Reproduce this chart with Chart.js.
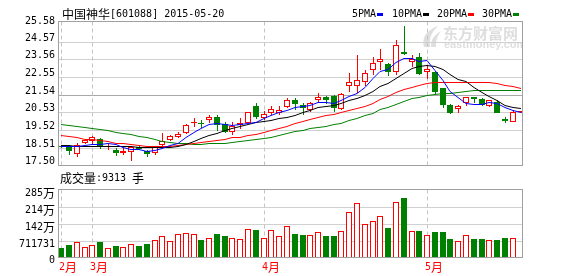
<!DOCTYPE html>
<html>
<head>
<meta charset="utf-8">
<script src="https://cdn.jsdelivr.net/npm/chart.js@4"></script>
<style>
  html, body { margin: 0; padding: 0; background: #fff; }
  canvas { display: block; }
</style>
</head>
<body>
<canvas id="kline" width="578" height="276"></canvas>
<script>
// 中国神华 601088 日K  2015-02-17 ~ 2015-05-20 (60 个交易日)
var opens = [18.62, 18.62, 18.17, 18.81, 18.87, 19.00, 18.55, 18.40, 18.21, 18.26,
  18.55, 18.34, 18.21, 18.68, 18.93, 19.15, 19.33, 19.94, 19.91, 20.11,
  20.24, 19.86, 19.44, 19.82, 19.92, 20.87, 20.20, 20.49, 20.52, 20.81,
  21.25, 20.95, 20.68, 21.25, 21.40, 21.44, 20.72, 22.05, 22.05, 22.24,
  22.96, 23.43, 23.30, 22.86, 23.95, 23.38, 23.69, 22.81, 22.83, 21.92,
  20.96, 20.72, 21.09, 21.40, 21.29, 20.92, 21.15, 20.15, 20.01, 20.53];
var highs = [18.68, 18.65, 18.81, 19.01, 19.20, 19.06, 18.72, 18.49, 18.49, 18.60,
  18.60, 18.40, 18.62, 19.38, 19.22, 19.44, 19.85, 20.22, 20.11, 20.39,
  20.39, 20.01, 20.01, 20.20, 20.58, 21.06, 20.62, 20.87, 20.87, 21.38,
  21.35, 21.06, 21.15, 21.63, 21.48, 21.50, 21.62, 22.77, 23.82, 22.96,
  23.69, 24.14, 23.35, 24.67, 25.47, 23.82, 23.91, 23.25, 22.88, 21.95,
  21.00, 20.96, 21.43, 21.42, 21.34, 21.25, 21.25, 20.24, 20.68, 20.58];
var lows = [18.50, 18.11, 18.01, 18.74, 18.74, 18.42, 18.40, 18.07, 18.11, 17.73,
  18.40, 18.01, 18.11, 18.58, 18.90, 19.06, 19.30, 19.71, 19.63, 19.92,
  19.48, 19.35, 19.25, 19.59, 19.90, 20.16, 20.11, 20.39, 20.39, 20.78,
  20.68, 20.39, 20.58, 21.06, 21.02, 20.58, 20.68, 21.67, 21.63, 22.05,
  22.68, 22.96, 22.58, 22.68, 23.79, 23.11, 22.68, 22.43, 21.59, 20.78,
  20.45, 20.49, 20.87, 21.06, 20.91, 20.83, 20.49, 19.95, 20.00, 20.50];
var closes = [18.55, 18.30, 18.68, 18.93, 19.12, 18.62, 18.62, 18.21, 18.34, 18.53,
  18.45, 18.15, 18.58, 18.87, 19.18, 19.28, 19.82, 20.00, 19.85, 20.24,
  19.82, 19.44, 19.78, 19.95, 20.55, 20.24, 20.43, 20.74, 20.68, 21.25,
  21.02, 20.79, 21.06, 21.40, 21.21, 20.78, 21.59, 22.29, 22.39, 22.77,
  23.34, 23.57, 22.86, 24.39, 23.87, 23.57, 22.73, 23.00, 21.67, 20.96,
  20.49, 20.87, 21.40, 21.29, 20.96, 21.21, 20.52, 20.05, 20.58, 20.55];
// 成交量(手)
var volumes = [391000, 516000, 642000, 460000, 544000, 642000, 391000, 474000, 433000, 558000,
  474000, 558000, 726000, 893000, 698000, 977000, 1019000, 991000, 726000, 809000,
  977000, 893000, 837000, 768000, 1186000, 1144000, 809000, 1144000, 893000, 1312000,
  977000, 935000, 935000, 1061000, 893000, 893000, 1102000, 1898000, 2275000, 1396000,
  1521000, 1730000, 1228000, 2317000, 2484000, 1102000, 1102000, 935000, 1061000, 1061000,
  768000, 684000, 935000, 768000, 768000, 726000, 726000, 809000, 809000, 9313];
// 均线
var ma5 = [18.62, 18.60, 18.62, 18.68, 18.72, 18.73, 18.79, 18.70, 18.58, 18.46,
  18.43, 18.34, 18.41, 18.52, 18.65, 18.81, 19.15, 19.43, 19.63, 19.84,
  19.95, 19.87, 19.83, 19.85, 19.91, 19.99, 20.19, 20.38, 20.53, 20.67,
  20.82, 20.90, 20.96, 21.10, 21.10, 21.05, 21.21, 21.45, 21.65, 21.96,
  22.48, 22.87, 22.99, 23.39, 23.61, 23.65, 23.48, 23.51, 22.97, 22.39,
  21.77, 21.40, 21.08, 21.00, 21.00, 21.15, 21.08, 20.81, 20.66, 20.58];
var ma10 = [18.68, 18.66, 18.64, 18.63, 18.63, 18.62, 18.62, 18.61, 18.60, 18.59,
  18.58, 18.57, 18.56, 18.55, 18.56, 18.62, 18.74, 18.92, 19.07, 19.24,
  19.38, 19.51, 19.63, 19.74, 19.87, 19.97, 20.03, 20.10, 20.19, 20.29,
  20.41, 20.54, 20.67, 20.82, 20.88, 20.94, 21.05, 21.21, 21.38, 21.53,
  21.76, 22.04, 22.22, 22.52, 22.79, 23.06, 23.18, 23.25, 23.18, 23.00,
  22.71, 22.44, 22.30, 21.99, 21.69, 21.46, 21.24, 20.94, 20.83, 20.79];
var ma20 = [19.22, 19.16, 19.10, 19.04, 18.99, 18.93, 18.87, 18.81, 18.76, 18.71,
  18.67, 18.64, 18.62, 18.62, 18.64, 18.69, 18.75, 18.80, 18.86, 18.92,
  18.98, 19.04, 19.10, 19.15, 19.22, 19.30, 19.39, 19.52, 19.63, 19.77,
  19.90, 20.03, 20.15, 20.28, 20.38, 20.46, 20.54, 20.66, 20.79, 20.91,
  21.09, 21.29, 21.45, 21.67, 21.84, 22.00, 22.12, 22.23, 22.28, 22.27,
  22.24, 22.24, 22.26, 22.25, 22.24, 22.26, 22.21, 22.10, 22.01, 21.90];
var ma30 = [19.88, 19.83, 19.77, 19.71, 19.65, 19.58, 19.51, 19.44, 19.37, 19.28,
  19.19, 19.10, 19.00, 18.91, 18.82, 18.78, 18.76, 18.75, 18.75, 18.76,
  18.78, 18.81, 18.85, 18.89, 18.94, 19.00, 19.07, 19.15, 19.25, 19.37,
  19.46, 19.54, 19.62, 19.70, 19.77, 19.84, 19.94, 20.08, 20.21, 20.36,
  20.52, 20.70, 20.84, 21.03, 21.18, 21.33, 21.42, 21.52, 21.58, 21.61,
  21.63, 21.68, 21.73, 21.78, 21.79, 21.82, 21.83, 21.80, 21.80, 21.78];

// 月份分隔
var monthNames = ['2月', '3月', '4月', '5月'];
var monthFirstDay = [0, 4, 26, 47];
// 坐标刻度
var priceTicks = [17.50, 18.51, 19.52, 20.53, 21.54, 22.55, 23.56, 24.57, 25.58];
var volTicks = [0, 711731, 1423462, 2135193, 2846924];
var volTickLabels = ['0', '711731', '142万', '214万', '285万'];

var stockTitle = '中国神华[601088] 2015-05-20';
var lastVolText = '成交量:9313 手';
var maNames = ['5PMA', '10PMA', '20PMA', '30PMA'];
var maColors = ['#0000ff', '#000000', '#ff0000', '#008000'];

// 版面 (像素)
var W = 578, H = 276;
var PLOT_LEFT = 58.5, PLOT_RIGHT = 522.5;
var PRICE_TOP = 21.5, PRICE_BOTTOM = 165.5, PRICE_STEP_PX = 17.7;
var VOL_TOP = 189.5, VOL_BOTTOM = 257.5;
var FIRST_CENTER = 61.2, SLOT = 7.786;

var RED = '#ff0000', GREEN = '#008000';
var ASCII_FONT = "10px 'DejaVu Sans Mono'";
var CJK_FONT = "12px 'Noto Sans CJK SC'";

// 价格轴: 17.50 落在 PRICE_BOTTOM, 每格 1.01 占 PRICE_STEP_PX
var pricePerPx = 1.01 / PRICE_STEP_PX;
var yPMax = 17.50 + (PRICE_BOTTOM - PRICE_TOP) * pricePerPx;
var yPMin = 17.50 - (VOL_BOTTOM - PRICE_BOTTOM) * pricePerPx;
// 成交量轴: 0 在 VOL_BOTTOM, 顶部为 285万
var volPerPx = volTicks[4] / (VOL_BOTTOM - VOL_TOP);
var yVMax = (VOL_BOTTOM - PRICE_TOP) * volPerPx;
var xMin = -(FIRST_CENTER - PLOT_LEFT) / SLOT;
var xMax = xMin + (PLOT_RIGHT - PLOT_LEFT) / SLOT;

var idx = closes.map(function (c, i) { return i; });
var isUp = closes.map(function (c, i) { return c >= opens[i]; });

// 线性轴, 输出像素对齐到整数 (+pixelShift), K 线边缘不发虚
class PixelLinearScale extends Chart.LinearScale {
  getPixelForValue(value) {
    var p = super.getPixelForValue(value);
    var shift = this.options.pixelShift;
    return typeof shift === 'number' ? Math.round(p) + shift : p;
  }
}
PixelLinearScale.id = 'pixelLinear';
PixelLinearScale.defaults = Chart.LinearScale.defaults;
Chart.register(PixelLinearScale);

function crisp(v) { return Math.round(v - 0.5) + 0.5; }

// 中英文混排: ASCII 用等宽字体, 中文用黑体
function drawText(ctx, str, x, y, color, alignRight) {
  var runs = str.match(/[\x00-\x7f]+|[^\x00-\x7f]+/g);
  var fonts = runs.map(function (r) { return /^[\x00-\x7f]/.test(r) ? ASCII_FONT : CJK_FONT; });
  var widths = runs.map(function (r, k) { ctx.font = fonts[k]; return ctx.measureText(r).width; });
  var total = widths.reduce(function (a, b) { return a + b; }, 0);
  var cx = alignRight ? x - total : x;
  ctx.fillStyle = color;
  ctx.textBaseline = 'middle';
  ctx.textAlign = 'left';
  runs.forEach(function (r, k) {
    ctx.font = fonts[k];
    ctx.fillText(r, cx, y);
    cx += widths[k];
  });
  return total;
}

var panelPlugin = {
  id: 'panels',
  beforeDatasetsDraw: function (chart) {
    var ctx = chart.ctx;
    var xs = chart.scales.x, yP = chart.scales.yP, yV = chart.scales.yV;
    ctx.save();

    // 水印
    ctx.fillStyle = '#dedede';
    ctx.beginPath();
    ctx.moveTo(424, 47); ctx.quadraticCurveTo(420, 33, 438, 26);
    ctx.quadraticCurveTo(428, 35, 430, 47); ctx.closePath(); ctx.fill();
    ctx.beginPath();
    ctx.moveTo(431, 47); ctx.quadraticCurveTo(430, 37, 441, 31);
    ctx.quadraticCurveTo(435, 39, 436, 47); ctx.closePath(); ctx.fill();
    ctx.font = "bold 15px 'Noto Sans CJK SC'";
    ctx.textBaseline = 'middle';
    ctx.fillText('东方财富网', 443, 33);
    ctx.font = "bold 11px 'Liberation Sans'";
    ctx.fillText('eastmoney.com', 444, 45);

    // 水平网格
    ctx.lineWidth = 1;
    priceTicks.forEach(function (v, k) {
      if (k === 0 || k === priceTicks.length - 1) return;
      var y = crisp(yP.getPixelForValue(v));
      ctx.strokeStyle = k === 4 ? '#a8a8a8' : '#d0d0d0';
      ctx.beginPath(); ctx.moveTo(PLOT_LEFT, y); ctx.lineTo(PLOT_RIGHT, y); ctx.stroke();
    });
    volTicks.forEach(function (v, k) {
      if (k === 0 || k === volTicks.length - 1) return;
      var y = crisp(yV.getPixelForValue(v));
      ctx.strokeStyle = '#d0d0d0';
      ctx.beginPath(); ctx.moveTo(PLOT_LEFT, y); ctx.lineTo(PLOT_RIGHT, y); ctx.stroke();
    });

    // 月份虚线
    ctx.strokeStyle = '#c4c4c4';
    ctx.setLineDash([4, 3]);
    monthFirstDay.forEach(function (d) {
      var x = crisp(xs.getPixelForValue(d));
      ctx.beginPath(); ctx.moveTo(x, PRICE_TOP); ctx.lineTo(x, PRICE_BOTTOM); ctx.stroke();
      ctx.beginPath(); ctx.moveTo(x, VOL_TOP); ctx.lineTo(x, VOL_BOTTOM); ctx.stroke();
    });
    ctx.setLineDash([]);
    ctx.restore();
  },
  afterDatasetsDraw: function (chart) {
    var ctx = chart.ctx;
    var xs = chart.scales.x, yP = chart.scales.yP, yV = chart.scales.yV;
    ctx.save();
    // 清掉两区之间与右侧的溢出
    ctx.fillStyle = '#fff';
    ctx.fillRect(PLOT_RIGHT + 0.5, 0, W - PLOT_RIGHT, H);
    ctx.fillRect(0, PRICE_BOTTOM + 0.5, W, VOL_TOP - PRICE_BOTTOM - 1);

    // 边框
    ctx.strokeStyle = '#a0a0a0';
    ctx.lineWidth = 1;
    ctx.strokeRect(PLOT_LEFT, PRICE_TOP, PLOT_RIGHT - PLOT_LEFT, PRICE_BOTTOM - PRICE_TOP);
    ctx.strokeRect(PLOT_LEFT, VOL_TOP, PLOT_RIGHT - PLOT_LEFT, VOL_BOTTOM - VOL_TOP);

    // 价格刻度
    priceTicks.forEach(function (v) {
      var y = Math.max(21, Math.min(163.5, yP.getPixelForValue(v) - 3.5));
      drawText(ctx, v.toFixed(2), 55, y, '#000', true);
    });
    // 成交量刻度
    volTicks.forEach(function (v, k) {
      var y = Math.min(260, yV.getPixelForValue(v) + 3);
      drawText(ctx, volTickLabels[k], 55, y, '#000', true);
    });
    // 月份
    monthFirstDay.forEach(function (d, k) {
      drawText(ctx, monthNames[k], xs.getPixelForValue(d) - 2, 267, RED, false);
    });

    // 标题与图例
    drawText(ctx, stockTitle, 62, 14, '#000', false);
    var legendX = [352, 392, 437, 482];
    maNames.forEach(function (name, k) {
      var w = drawText(ctx, name, legendX[k], 14, '#000', false);
      ctx.fillStyle = maColors[k];
      ctx.fillRect(Math.round(legendX[k] + w + 1), 13, 6, 3);
    });
    drawText(ctx, lastVolText, 60, 178, '#000', false);
    ctx.restore();
  }
};

function maDataset(values, k) {
  return {
    type: 'line',
    label: maNames[k],
    data: idx.map(function (i) { return { x: i, y: values[i] }; }),
    borderColor: maColors[k],
    borderWidth: 1,
    pointRadius: 0,
    tension: 0,
    xAxisID: 'x',
    yAxisID: 'yL',
    order: k
  };
}

new Chart(document.getElementById('kline').getContext('2d'), {
  type: 'bar',
  data: {
    datasets: [
      maDataset(ma5, 0),
      maDataset(ma10, 1),
      maDataset(ma20, 2),
      maDataset(ma30, 3),
      {
        label: '实体',
        data: idx.map(function (i) { return { x: i, y: [opens[i], closes[i]] }; }),
        backgroundColor: isUp.map(function (u) { return u ? '#ffffff' : GREEN; }),
        borderColor: isUp.map(function (u) { return u ? RED : GREEN; }),
        borderWidth: 1,
        borderSkipped: false,
        inflateAmount: 0,
        barThickness: 6,
        minBarLength: 1,
        grouped: false,
        xAxisID: 'x',
        yAxisID: 'yP',
        order: 5
      },
      {
        label: '影线',
        data: idx.map(function (i) { return { x: i, y: [lows[i], highs[i]] }; }),
        backgroundColor: isUp.map(function (u) { return u ? RED : GREEN; }),
        borderWidth: 0,
        inflateAmount: 0,
        barThickness: 1,
        grouped: false,
        xAxisID: 'xw',
        yAxisID: 'yP',
        order: 6
      },
      {
        label: '成交量',
        data: idx.map(function (i) { return { x: i, y: volumes[i] }; }),
        backgroundColor: isUp.map(function (u) { return u ? '#ffffff' : GREEN; }),
        borderColor: isUp.map(function (u) { return u ? RED : GREEN; }),
        borderWidth: 1,
        borderSkipped: false,
        inflateAmount: 0,
        barThickness: 6,
        grouped: false,
        xAxisID: 'x',
        yAxisID: 'yV',
        order: 5
      }
    ]
  },
  options: {
    responsive: false,
    animation: false,
    devicePixelRatio: 1,
    layout: { padding: { left: PLOT_LEFT, right: W - PLOT_RIGHT, top: PRICE_TOP, bottom: H - VOL_BOTTOM } },
    plugins: { legend: { display: false }, tooltip: { enabled: false } },
    scales: {
      x: { type: 'pixelLinear', axis: 'x', pixelShift: 0, display: false, min: xMin, max: xMax, offset: false },
      xw: { type: 'pixelLinear', axis: 'x', pixelShift: 0.5, display: false, min: xMin, max: xMax, offset: false },
      yP: { type: 'pixelLinear', axis: 'y', pixelShift: 0, display: false, min: yPMin, max: yPMax },
      yL: { type: 'pixelLinear', axis: 'y', pixelShift: 0.5, display: false, min: yPMin, max: yPMax },
      yV: { type: 'pixelLinear', axis: 'y', pixelShift: 0, display: false, min: 0, max: yVMax }
    }
  },
  plugins: [panelPlugin]
});
</script>
</body>
</html>
